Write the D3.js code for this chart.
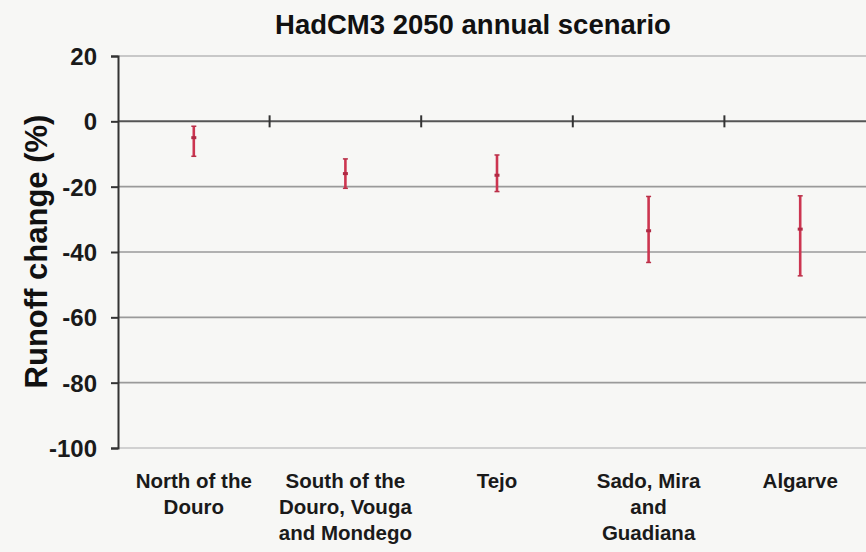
<!DOCTYPE html>
<html>
<head>
<meta charset="utf-8">
<script src="https://cdn.jsdelivr.net/npm/d3@7"></script>
<style>
  html, body { margin: 0; padding: 0; background: #f7f7f5; }
  svg { display: block; font-family: "Liberation Sans", Arial, sans-serif; }
</style>
</head>
<body>
<svg id="chart" width="866" height="552"></svg>
<script>
// Runoff change per basin group, HadCM3 2050 annual scenario (%)
const regions = [
  ["North of the", "Douro"],
  ["South of the", "Douro, Vouga", "and Mondego"],
  ["Tejo"],
  ["Sado, Mira", "and", "Guadiana"],
  ["Algarve"]
];
const categories = ["North", "South", "Tejo", "Sado", "Algarve"];
const central = [-5, -16, -16.5, -33.5, -33];
const upper = [-1.5, -11.5, -10.3, -23, -22.8];
const lower = [-10.7, -20.5, -21.5, -43.2, -47.3];
const yTicks = [20, 0, -20, -40, -60, -80, -100];

const svg = d3.select("#chart");
const W = 866;

const x = d3.scaleBand().domain(categories).range([118, 876]).paddingInner(0).paddingOuter(0);
const y = d3.scaleLinear().domain([-100, 20]).range([448, 56]);

// horizontal gridlines
svg.append("g")
  .selectAll("line")
  .data(yTicks.filter(v => v !== 0))
  .join("line")
  .attr("x1", x.range()[0]).attr("x2", W)
  .attr("y1", d => y(d)).attr("y2", d => y(d))
  .attr("stroke", d => d === -100 ? "#c4c4c4" : d === 20 ? "#b8b8b8" : "#9a9a9a")
  .attr("stroke-width", 1.6);

// zero line with category separators
svg.append("line")
  .attr("x1", x.range()[0]).attr("x2", W)
  .attr("y1", y(0)).attr("y2", y(0))
  .attr("stroke", "#555").attr("stroke-width", 2);

svg.append("g")
  .selectAll("line")
  .data(categories.slice(1))
  .join("line")
  .attr("x1", d => x(d)).attr("x2", d => x(d))
  .attr("y1", y(0) - 6).attr("y2", y(0) + 6)
  .attr("stroke", "#333").attr("stroke-width", 2);

// y axis
const yAxis = d3.axisLeft(y).tickValues(yTicks).tickSize(7).tickPadding(14).tickFormat(d => String(d));
const gy = svg.append("g").attr("transform", `translate(${x.range()[0]},0)`).call(yAxis);
gy.select(".domain").attr("stroke", "#333").attr("stroke-width", 2);
gy.selectAll(".tick line").attr("stroke", "#333").attr("stroke-width", 2);
gy.selectAll(".tick text")
  .attr("font-size", 24).attr("font-weight", "bold").attr("fill", "#1a1a1a")
  .attr("dy", "0.36em");

// error bars
const bars = svg.append("g");
categories.forEach((c, i) => {
  const cx = x(c) + x.bandwidth() / 2;
  bars.append("line")
    .attr("x1", cx).attr("x2", cx)
    .attr("y1", y(upper[i])).attr("y2", y(lower[i]))
    .attr("stroke", "#cc3550").attr("stroke-width", 2.6);
  [upper[i], lower[i]].forEach(v => {
    bars.append("line")
      .attr("x1", cx - 2.5).attr("x2", cx + 2.5)
      .attr("y1", y(v)).attr("y2", y(v))
      .attr("stroke", "#b83048").attr("stroke-width", 1.5);
  });
  bars.append("rect")
    .attr("x", cx - 2.5).attr("y", y(central[i]) - 1.5)
    .attr("width", 5).attr("height", 3)
    .attr("fill", "#b02a44");
});

// category labels
const labels = svg.append("g");
categories.forEach((c, i) => {
  const t = labels.append("text")
    .attr("x", x(c) + x.bandwidth() / 2).attr("y", 488)
    .attr("text-anchor", "middle")
    .attr("font-size", 20.5).attr("font-weight", "bold").attr("fill", "#1a1a1a");
  regions[i].forEach((line, k) => {
    t.append("tspan").attr("x", x(c) + x.bandwidth() / 2).attr("dy", k === 0 ? 0 : 26).text(line);
  });
});

// title
svg.append("text")
  .attr("x", 473).attr("y", 34)
  .attr("text-anchor", "middle")
  .attr("font-size", 27.5).attr("font-weight", "bold").attr("fill", "#111")
  .text("HadCM3 2050 annual scenario");

// y axis title
svg.append("text")
  .attr("transform", `translate(47,${(110 + 393) / 2}) rotate(-90)`)
  .attr("text-anchor", "middle")
  .attr("font-size", 31).attr("font-weight", "bold").attr("fill", "#111")
  .text("Runoff change (%)");
</script>
</body>
</html>
